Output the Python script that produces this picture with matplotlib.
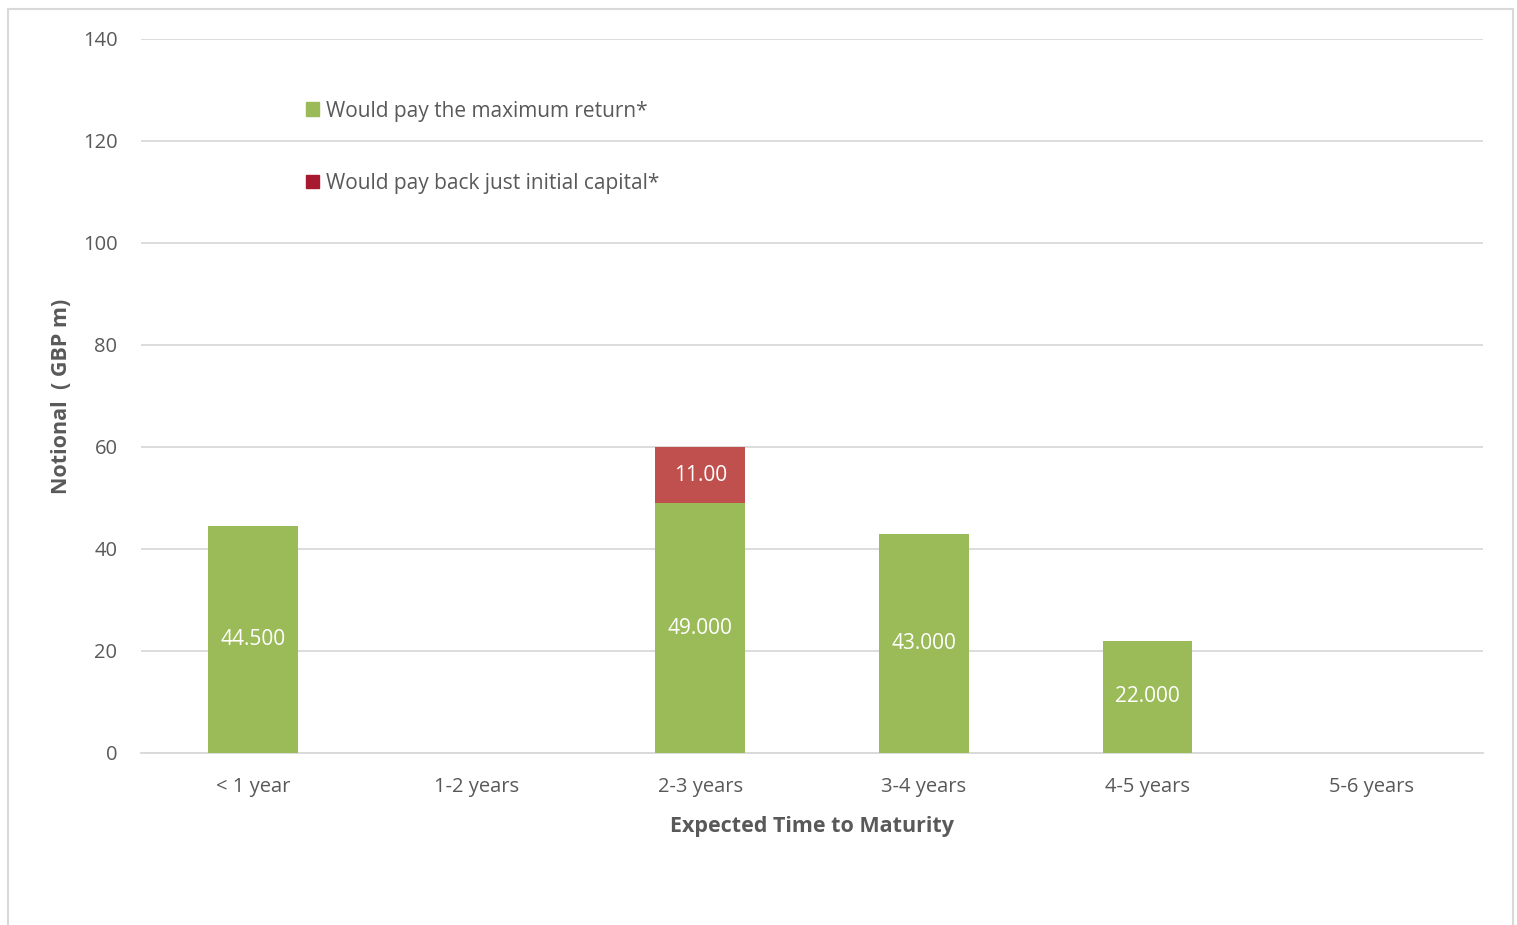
import numpy as np
import matplotlib.pyplot as plt
from matplotlib.patches import Rectangle

plt.rcParams['font.family'] = ['Open Sans', 'DejaVu Sans']

# data
categories = ['< 1 year', '1-2 years', '2-3 years', '3-4 years', '4-5 years', '5-6 years']
max_return = [44.5, 0, 49.0, 43.0, 22.0, 0]
initial_capital = [0, 0, 11.0, 0, 0, 0]
max_labels = ['44.500', '', '49.000', '43.000', '22.000', '']
cap_labels = ['', '', '11.00', '', '', '']

green = '#9BBB59'
red = '#C0504D'
red_legend = '#A6192E'
txt = '#595959'

fig = plt.figure(figsize=(15.17, 9.25), dpi=100)
ax = fig.add_axes([141/1517, 1 - 753/925, 1342/1517, 714/925])

# outer chart border
fig.patches.append(Rectangle((8/1517, -0.05), 1505/1517, 1.05 - 9/925,
                             transform=fig.transFigure, fill=False,
                             edgecolor='#D9D9D9', linewidth=1.5))

x = np.arange(len(categories))
b1 = ax.bar(x, max_return, width=0.4, color=green, zorder=3)
b2 = ax.bar(x, initial_capital, width=0.4, bottom=max_return, color=red,
            zorder=3)

for i in range(len(x)):
    if max_labels[i]:
        ax.text(x[i], max_return[i] / 2, max_labels[i], ha='center', va='center',
                color='white', fontsize=15, zorder=4)
    if cap_labels[i]:
        ax.text(x[i], max_return[i] + initial_capital[i] / 2, cap_labels[i],
                ha='center', va='center', color='white', fontsize=15, zorder=4)

ax.set_xlim(-0.5, 5.5)
ax.set_ylim(0, 140)
ax.set_yticks(np.arange(0, 141, 20))
ax.set_xticks(x)
ax.set_xticklabels(categories)
ax.grid(axis='y', color='#D9D9D9', linewidth=1.3, zorder=0)
ax.tick_params(length=0, labelsize=14.5, colors=txt)
ax.tick_params(axis='x', pad=17)
ax.tick_params(axis='y', pad=17)
for s in ['top', 'right', 'left']:
    ax.spines[s].set_visible(False)
ax.spines['bottom'].set_color('#D9D9D9')
ax.spines['bottom'].set_linewidth(1.3)

ax.set_xlabel('Expected Time to Maturity', fontsize=15.5, fontweight='bold',
              color=txt, labelpad=14)
ax.set_ylabel('Notional  ( GBP m)', fontsize=15.5, fontweight='bold',
              color=txt, labelpad=8)

h1 = Rectangle((0, 0), 1, 1, color=green)
h2 = Rectangle((0, 0), 1, 1, color=red_legend)
fig.legend([h1, h2], ['Would pay the maximum return*', 'Would pay back just initial capital*'],
           loc='upper left', bbox_to_anchor=(287/1517, 1 - 82/925), frameon=False,
           fontsize=15, labelcolor=txt, handlelength=0.65, handleheight=0.65,
           handletextpad=0.3, labelspacing=2.45)

fig.savefig('out.png', dpi=100)
